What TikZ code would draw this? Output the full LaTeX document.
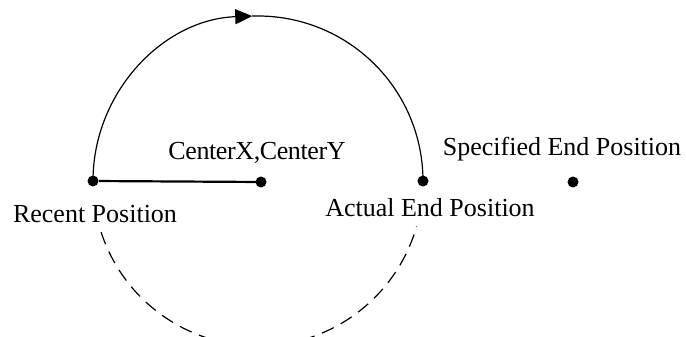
\documentclass[tikz,border=0pt]{standalone}
\usepackage{fontspec}
\setmainfont{Liberation Serif}
\usetikzlibrary{arrows.meta,calc}
\begin{document}
\begin{tikzpicture}[x=0.5pt,y=0.5pt,
  dot/.style={circle,fill=black,inner sep=0pt,minimum size=5.5pt},
  lbl/.style={inner sep=0pt,font=\fontsize{13}{15}\selectfont},
  arcline/.style={line width=0.6pt},
  dashline/.style={line width=0.6pt,dash pattern=on 6.5pt off 4pt}]
\useasboundingbox (0,0) rectangle (686,337);
\coordinate (O) at (258,156);
\coordinate (Lp) at (93,156);
\coordinate (Rp) at (423,156);
\coordinate (Top) at ($(O)+(92:82.5pt)$);
\node[dot] (left) at (Lp) {};
\node[dot] (ctr) at (261,155) {};
\node[dot] (right) at (Rp) {};
\node[dot] (spec) at (573,155) {};
\draw[arcline,-{Triangle[length=8.5pt,width=7.5pt]}] (Lp) arc[start angle=180,end angle=92,radius=82.5pt];
\draw[arcline] (Top) arc[start angle=92,end angle=0,radius=82.5pt];
\draw[dashline] ($(O)+(198:82.5pt)$) coordinate (d1) arc[start angle=198,end angle=344,radius=82.5pt];
\draw[line width=1.1pt] (left) -- (ctr.center);
\node[lbl] (tc) at (257,184) {\addfontfeature{LetterSpace=-1.5}CenterX,CenterY};
\node[lbl] (tr) at (95,123) {Recent Position};
\node[lbl] (ta) at (430,129) {Actual End Position};
\node[lbl] (ts) at (562,188) {Specified End Position};
\end{tikzpicture}
\end{document}
